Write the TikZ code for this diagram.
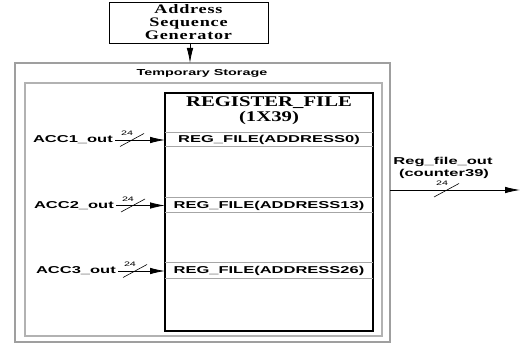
\documentclass[tikz,border=0pt]{standalone}
\usepackage{fontspec}
\usetikzlibrary{arrows.meta}
\newfontfamily\sanslab[FakeStretch=1.65]{Liberation Sans}
\newfontfamily\serlab[FakeStretch=1.4]{Liberation Serif}
\newfontfamily\serwide[FakeStretch=1.4,LetterSpace=6]{Liberation Serif}
\tikzset{
  lbl/.style={inner sep=0pt, font=\sanslab\bfseries\fontsize{10}{10}\selectfont},
  small/.style={inner sep=0pt, font=\sanslab\fontsize{6.5}{6.5}\selectfont},
  ttl/.style={inner sep=0pt, font=\serlab\bfseries\fontsize{14.8}{15}\selectfont},
  arr/.style={-{Latex[length=15pt,width=6.5pt]}, line width=0.8pt},
  bus/.style={line width=0.6pt},
}
\begin{document}
\begin{tikzpicture}[x=1pt,y=-1pt]
\useasboundingbox (0,0) rectangle (522,344);
% Address generator
\draw[line width=0.9pt] (109,2) rectangle (268,43);
\node[inner sep=0pt, align=center, font=\serwide\bfseries\fontsize{13}{13}\selectfont] (asg) at (188.5,22) {Address\\Sequence\\Generator};
\coordinate (asgb) at (190,43);
% outer box
\draw[gray!75, line width=1.2pt] (15,63) rectangle (390,342);
\coordinate (tsTop) at (190,63);
\draw[arr] (asgb) -- (tsTop);
\node[lbl, font=\sanslab\bfseries\fontsize{8.7}{9}\selectfont] (ts) at (202,73) {Temporary Storage};
% inner box
\draw[gray!60, line width=1.5pt] (25,83) rectangle (382,336);
% register file
\draw[line width=1.3pt] (165,93) rectangle (373,331);
\node[ttl] (rf1) at (269,103) {REGISTER\_FILE};
\node[ttl] (rf2) at (269,117.5) {(1X39)};
\foreach \a/\b in {133/147,198/213,263/279}{
  \draw[gray!70, line width=1pt] (165,\a) -- (373,\a);
  \draw[gray!70, line width=1pt] (165,\b) -- (373,\b);
}
\node[lbl] (r0) at (269,140) {REG\_FILE(ADDRESS0)};
\node[lbl] (r13) at (269,205.5) {REG\_FILE(ADDRESS13)};
\node[lbl] (r26) at (269,271) {REG\_FILE(ADDRESS26)};
% inputs
\foreach \n/\y/\xr in {1/140/113,2/205.5/114,3/271/116}{
  \node[lbl, anchor=east] (acc\n) at (\xr,\y) {ACC\n\_out};
  \coordinate (in\n) at (165,\y);
  \draw[arr] (acc\n.east) ++(2,0) -- (in\n);
  \draw[bus] (\xr+7,\y+6.5) -- (\xr+31,\y-6.5);
  \node[small] at (\xr+14,\y-6.5) {24};
}
% output
\coordinate (o1) at (390,190);
\coordinate (o2) at (520,190);
\draw[arr] (o1) -- (o2);
\node[lbl] (ro) at (443,162) {Reg\_file\_out};
\node[lbl] (rc) at (444,174) {(counter39)};
\draw[bus] (434,197) -- (459,183.5);
\node[small] (w) at (442,183) {24};
\end{tikzpicture}
\end{document}
